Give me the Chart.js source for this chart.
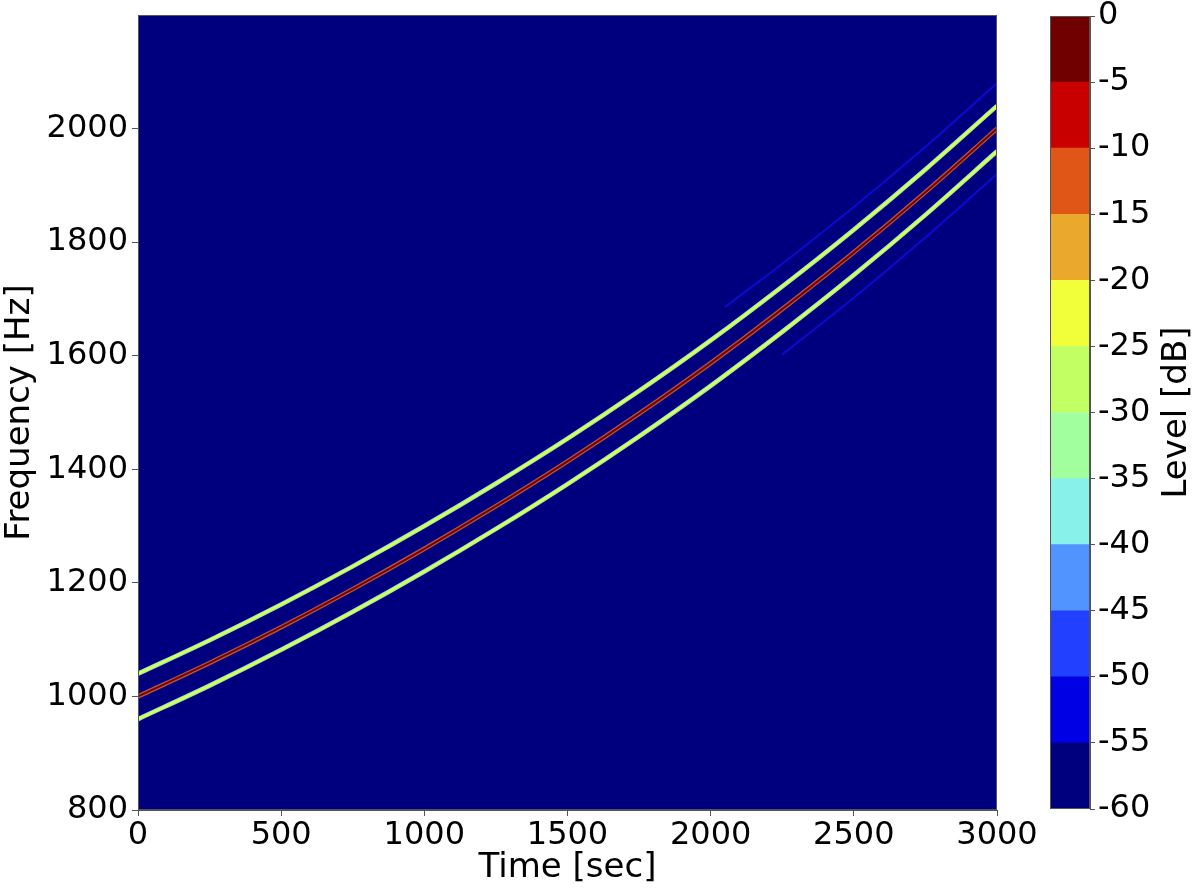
<!DOCTYPE html>
<html>
<head>
<meta charset="utf-8">
<script src="https://cdn.jsdelivr.net/npm/chart.js@4"></script>
<style>
  html, body { margin: 0; padding: 0; background: #fff; }
  #wrap { position: relative; width: 1200px; height: 891px; }
  #main { position: absolute; left: 0; top: 0; }
  #bar { position: absolute; left: 1040px; top: 0; }
</style>
</head>
<body>
<div id="wrap">
  <canvas id="main" width="1200" height="891" style="width:1200px;height:891px"></canvas>
  <canvas id="bar" width="160" height="891" style="width:160px;height:891px"></canvas>
</div>
<script>
// values
const times = [0, 250, 500, 750, 1000, 1250, 1500, 1750, 2000, 2250, 2500, 2750, 3000];
const centerFreq = [1000, 1059, 1122, 1189, 1260, 1335, 1414, 1498, 1587, 1682, 1782, 1888, 2000];
const upperFreq = [1040, 1099, 1162, 1229, 1300, 1375, 1454, 1538, 1627, 1722, 1822, 1928, 2040];
const lowerFreq = [960, 1019, 1082, 1149, 1220, 1295, 1374, 1458, 1547, 1642, 1742, 1848, 1960];

const faintUpperTimes = [2050, 2250, 2500, 2750, 3000];
const faintUpperFreq = [1686, 1762, 1862, 1968, 2080];
const faintLowerTimes = [2250, 2500, 2750, 3000];
const faintLowerFreq = [1602, 1702, 1808, 1920];

const freqTicks = [800, 1000, 1200, 1400, 1600, 1800, 2000];
const levelEdges = [-60, -55, -50, -45, -40, -35, -30, -25, -20, -15, -10, -5, 0];
const levelColors = ['#00007f', '#0000e4', '#2240ff', '#5294ff', '#88f2ea', '#a2ff9e',
                     '#c2ff62', '#f0ff3a', '#eaa82c', '#e05616', '#c80000', '#700000'];

const FONT = 'DejaVu Sans';

function pts(xs, ys) {
  return xs.map((x, i) => ({ x: x, y: ys[i] }));
}

function lineSet(data, color, width, order) {
  return {
    data: data,
    borderColor: color,
    borderWidth: width,
    pointRadius: 0,
    showLine: true,
    fill: false,
    cubicInterpolationMode: 'monotone',
    order: order
  };
}

// no extra room for overhanging tick labels, so layout padding sets the plot box
function noOverhang(s) {
  s.paddingTop = 0;
  s.paddingBottom = 0;
  s.paddingLeft = 0;
  s.paddingRight = 0;
}

const frame = {
  id: 'frame',
  beforeDraw(chart, args, opts) {
    if (!opts.bg) return;
    const a = chart.chartArea, c = chart.ctx;
    c.save();
    c.fillStyle = opts.bg;
    c.fillRect(a.left, a.top, a.right - a.left, a.bottom - a.top);
    c.restore();
  },
  afterDraw(chart, args, opts) {
    const a = chart.chartArea, c = chart.ctx;
    c.save();
    c.strokeStyle = '#555';
    c.lineWidth = 1;
    c.strokeRect(a.left + 0.5, a.top + 0.5, a.right - a.left - 1, a.bottom - a.top - 1);
    if (opts.label) {
      c.fillStyle = '#000';
      c.font = '34px "' + FONT + '"';
      c.textAlign = 'center';
      c.textBaseline = 'middle';
      c.translate(opts.labelX, (a.top + a.bottom) / 2);
      c.rotate(-Math.PI / 2);
      c.fillText(opts.label, 0, 0);
    }
    c.restore();
  }
};

new Chart(document.getElementById('main'), {
  type: 'scatter',
  data: {
    datasets: [
      lineSet(pts(times, upperFreq), '#eeff3c', 2, 0),
      lineSet(pts(times, lowerFreq), '#eeff3c', 2, 0),
      lineSet(pts(times, centerFreq), '#780000', 2, 0),
      lineSet(pts(times, upperFreq), '#98f0b8', 4.5, 1),
      lineSet(pts(times, lowerFreq), '#98f0b8', 4.5, 1),
      lineSet(pts(times, centerFreq), '#b8583a', 4.5, 1),
      lineSet(pts(faintUpperTimes, faintUpperFreq), '#0a0ad0', 2, 2),
      lineSet(pts(faintLowerTimes, faintLowerFreq), '#0a0ad0', 2, 2)
    ]
  },
  options: {
    responsive: false,
    animation: false,
    layout: { padding: { top: 15, right: 203, left: 0, bottom: 0 } },
    plugins: {
      legend: { display: false },
      tooltip: { enabled: false },
      frame: { bg: '#00007f' }
    },
    scales: {
      x: {
        type: 'linear',
        min: 0,
        max: 3000,
        ticks: { stepSize: 500, autoSkip: false, maxRotation: 0, color: '#000', font: { family: FONT, size: 32 }, padding: 0,
                 callback: v => String(v) },
        grid: { drawOnChartArea: false, tickLength: 6, color: '#555' },
        border: { color: '#555' },
        title: { display: true, text: 'Time [sec]', color: '#000', font: { family: FONT, size: 34 }, padding: { top: 0, bottom: 2 } },
        afterFit(s) { s.height = 81; noOverhang(s); }
      },
      y: {
        min: 800,
        max: 2200,
        afterBuildTicks(s) { s.ticks = freqTicks.map(v => ({ value: v })); },
        ticks: { color: '#000', font: { family: FONT, size: 32 }, padding: 4, callback: v => String(v) },
        grid: { drawOnChartArea: false, tickLength: 6, color: '#555' },
        border: { color: '#555' },
        title: { display: true, text: 'Frequency [Hz]', color: '#000', font: { family: FONT, size: 34 }, padding: { top: 0, bottom: 0 } },
        afterFit(s) { s.width = 138; noOverhang(s); }
      }
    }
  },
  plugins: [frame]
});

// colour bar
const bands = levelColors.map((col, i) => ({
  data: [[levelEdges[i], levelEdges[i + 1]]],
  backgroundColor: col,
  borderWidth: 0,
  barPercentage: 1,
  categoryPercentage: 1,
  grouped: false
}));

new Chart(document.getElementById('bar'), {
  type: 'bar',
  data: { labels: [''], datasets: bands },
  options: {
    responsive: false,
    animation: false,
    layout: { padding: { top: 16, left: 10, right: 0, bottom: 82 } },
    plugins: {
      legend: { display: false },
      tooltip: { enabled: false },
      frame: { label: 'Level [dB]', labelX: 137 }
    },
    scales: {
      x: { display: false },
      y: {
        position: 'right',
        min: -60,
        max: 0,
        afterBuildTicks(s) { s.ticks = levelEdges.map(v => ({ value: v })); },
        ticks: { color: '#000', font: { family: FONT, size: 32 }, padding: 3, callback: v => String(v) },
        grid: { drawOnChartArea: false, tickLength: 5, color: '#555' },
        border: { color: '#555' },
        afterFit(s) { s.width = 110; noOverhang(s); }
      }
    }
  },
  plugins: [frame]
});
</script>
</body>
</html>
